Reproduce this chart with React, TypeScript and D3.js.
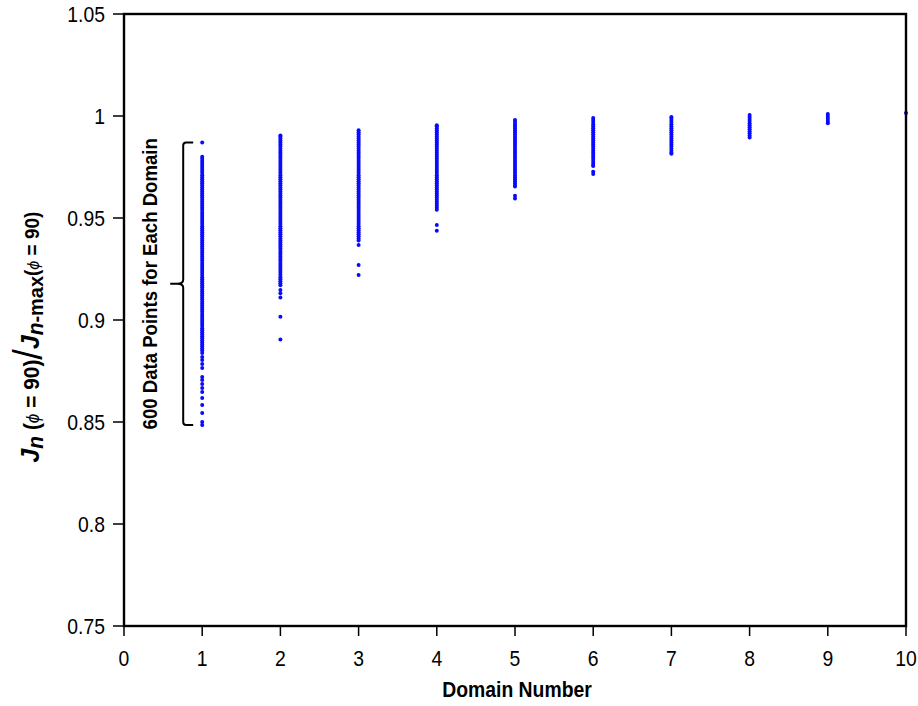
import React from "react";
import * as d3 from "d3";

const domains = [1, 2, 3, 4, 5, 6, 7, 8, 9, 10];
const xTicks = [0, 1, 2, 3, 4, 5, 6, 7, 8, 9, 10];
const yTicks = [0.75, 0.8, 0.85, 0.9, 0.95, 1, 1.05];
const yTickLabels = ["0.75", "0.8", "0.85", "0.9", "0.95", "1", "1.05"];

const domain1 = [
  0.987,
  0.98, 0.979, 0.978, 0.977, 0.976, 0.975, 0.974, 0.973, 0.972, 0.971,
  0.97, 0.969, 0.968, 0.967, 0.966, 0.965, 0.964, 0.963, 0.962, 0.961,
  0.96, 0.959, 0.958, 0.957, 0.956, 0.955, 0.954, 0.953, 0.952, 0.951,
  0.95, 0.949, 0.948, 0.947, 0.946, 0.945, 0.944, 0.943, 0.942, 0.941,
  0.94, 0.939, 0.938, 0.937, 0.936, 0.935, 0.934, 0.933, 0.932, 0.931,
  0.93, 0.929, 0.928, 0.927, 0.926, 0.925, 0.924, 0.923, 0.922, 0.921,
  0.92, 0.919, 0.918, 0.917, 0.916, 0.915, 0.914, 0.913, 0.912, 0.911,
  0.91, 0.909, 0.908, 0.907, 0.906, 0.905, 0.904, 0.903, 0.902, 0.901,
  0.9, 0.899, 0.898, 0.897, 0.896, 0.895, 0.894, 0.893, 0.892, 0.891,
  0.89, 0.889, 0.888, 0.887, 0.886, 0.885,
  0.8838, 0.8819, 0.8804, 0.8784, 0.8765, 0.8721, 0.8706, 0.8686, 0.8667, 0.8647,
  0.8618, 0.8583, 0.8544, 0.85, 0.8485,
];
const domain2 = [
  0.9905, 0.99, 0.989, 0.988, 0.987, 0.986, 0.985, 0.984, 0.983, 0.982, 0.981,
  0.98, 0.979, 0.978, 0.977, 0.976, 0.975, 0.974, 0.973, 0.972, 0.971,
  0.97, 0.969, 0.968, 0.967, 0.966, 0.965, 0.964, 0.963, 0.962, 0.961,
  0.96, 0.959, 0.958, 0.957, 0.956, 0.955, 0.954, 0.953, 0.952, 0.951,
  0.95, 0.949, 0.948, 0.947, 0.946, 0.945, 0.944, 0.943, 0.942, 0.941,
  0.94, 0.939, 0.938, 0.937, 0.936, 0.935, 0.934, 0.933, 0.932, 0.931,
  0.93, 0.929, 0.928, 0.927, 0.926, 0.925, 0.924, 0.923, 0.922, 0.921,
  0.92, 0.919, 0.918, 0.917,
  0.9147, 0.9131, 0.911, 0.9016, 0.8905,
];
const domain3 = [
  0.993, 0.992, 0.991,
  0.99, 0.989, 0.988, 0.987, 0.986, 0.985, 0.984, 0.983, 0.982, 0.981,
  0.98, 0.979, 0.978, 0.977, 0.976, 0.975, 0.974, 0.973, 0.972, 0.971,
  0.97, 0.969, 0.968, 0.967, 0.966, 0.965, 0.964, 0.963, 0.962, 0.961,
  0.96, 0.959, 0.958, 0.957, 0.956, 0.955, 0.954, 0.953, 0.952, 0.951,
  0.95, 0.949, 0.948, 0.947, 0.946, 0.945, 0.944, 0.943, 0.942, 0.941,
  0.94, 0.939,
  0.9368, 0.927, 0.9221,
];
const domain4 = [
  0.9955, 0.995, 0.994, 0.993, 0.992, 0.991,
  0.99, 0.989, 0.988, 0.987, 0.986, 0.985, 0.984, 0.983, 0.982, 0.981,
  0.98, 0.979, 0.978, 0.977, 0.976, 0.975, 0.974, 0.973, 0.972, 0.971,
  0.97, 0.969, 0.968, 0.967, 0.966, 0.965, 0.964, 0.963, 0.962, 0.961,
  0.96, 0.959, 0.958, 0.957, 0.956, 0.955, 0.954,
  0.9466, 0.9438,
];
const domain5 = [
  0.998, 0.997, 0.996, 0.995, 0.994, 0.993, 0.992, 0.991,
  0.99, 0.989, 0.988, 0.987, 0.986, 0.985, 0.984, 0.983, 0.982, 0.981,
  0.98, 0.979, 0.978, 0.977, 0.976, 0.975, 0.974, 0.973, 0.972, 0.971,
  0.97, 0.969, 0.968, 0.967, 0.966, 0.9655,
  0.9609, 0.9596,
];
const domain6 = [
  0.999, 0.998, 0.997, 0.996, 0.995, 0.994, 0.993, 0.992, 0.991,
  0.99, 0.989, 0.988, 0.987, 0.986, 0.985, 0.984, 0.983, 0.982, 0.981,
  0.98, 0.979, 0.978, 0.977, 0.976, 0.9755,
  0.9727, 0.9716,
];
const domain7 = [
  0.9995, 0.999, 0.998, 0.997, 0.996, 0.995, 0.994, 0.993, 0.992, 0.991,
  0.99, 0.989, 0.988, 0.987, 0.986, 0.985, 0.984, 0.983, 0.982, 0.9815,
];
const domain8 = [1.0005, 0.9995, 0.9985, 0.9975, 0.9965, 0.9955, 0.9945, 0.9935, 0.9925, 0.9915, 0.9905, 0.9895];
const domain9 = [1.001, 1.0, 0.999, 0.998, 0.997, 0.9965];
const domain10 = [1.0015];

const seriesValues = [domain1, domain2, domain3, domain4, domain5, domain6, domain7, domain8, domain9, domain10];

const W = 918;
const H = 706;
const left = 124;
const right = 906;
const top = 14;
const bottom = 626;

const FONT = "'Liberation Sans', Arial, sans-serif";
const NARROW = 0.88;

export default function App() {
  const x = d3.scaleLinear().domain([0, 10]).range([left, right]);
  const y = d3.scaleLinear().domain([0.75, 1.05]).range([bottom, top]);

  const points: { d: number; v: number }[] = [];
  seriesValues.forEach((vals, i) => vals.forEach((v) => points.push({ d: domains[i], v })));

  const bTop = y(d3.max(domain1) as number);
  const bBot = y(d3.min(domain1) as number);
  const bMid = (bTop + bBot) / 2;
  const bx = x(1) - 19;
  const brace = `M ${bx + 10} ${bTop} L ${bx + 3} ${bTop} Q ${bx} ${bTop} ${bx} ${bTop + 3} L ${bx} ${bMid - 4} Q ${bx} ${bMid} ${bx - 6} ${bMid} L ${bx - 13} ${bMid} M ${bx - 6} ${bMid} Q ${bx} ${bMid} ${bx} ${bMid + 4} L ${bx} ${bBot - 3} Q ${bx} ${bBot} ${bx + 3} ${bBot} L ${bx + 10} ${bBot}`;

  return (
    <svg width={W} height={H} style={{ display: "block", position: "absolute", left: 0, top: 0 }}>
      <rect width={W} height={H} fill="#fff" />
      {points.map((p, i) => (
        <circle key={i} cx={x(p.d)} cy={y(p.v)} r={2.0} fill="#0a0aff" />
      ))}
      <rect x={left} y={top} width={right - left} height={bottom - top} fill="none" stroke="#000" strokeWidth={2.4} />
      {yTicks.map((t, i) => (
        <g key={t}>
          <line x1={left - 11} x2={left} y1={y(t)} y2={y(t)} stroke="#000" strokeWidth={1.5} />
          <text transform={`translate(${left - 19}, ${y(t)}) scale(${NARROW}, 1)`} dy="0.36em" textAnchor="end" fontFamily={FONT} fontSize={22} fill="#000">
            {yTickLabels[i]}
          </text>
        </g>
      ))}
      {xTicks.map((t) => (
        <g key={t}>
          <line x1={x(t)} x2={x(t)} y1={bottom} y2={bottom + 10} stroke="#000" strokeWidth={1.5} />
          <text transform={`translate(${x(t)}, 666) scale(${NARROW}, 1)`} textAnchor="middle" fontFamily={FONT} fontSize={22} fill="#000">
            {t}
          </text>
        </g>
      ))}
      <text transform={`translate(${(left + right) / 2 + 2}, 697) scale(${NARROW}, 1)`} textAnchor="middle" fontFamily={FONT} fontSize={22} fontWeight="bold" fill="#000">
        Domain Number
      </text>
      <text transform={`translate(39, 337) rotate(-90) scale(0.95, 1)`} textAnchor="middle" fontFamily={FONT} fontWeight="bold" fontSize={22} fill="#000">
        <tspan fontStyle="italic" fontSize={26}>J</tspan>
        <tspan fontStyle="italic" fontSize={22} dy={4}>n</tspan>
        <tspan dy={-4}> (</tspan>
        <tspan fontStyle="italic" fontWeight="normal" fontSize={18}>ϕ</tspan>
        <tspan> = 90)</tspan>
        <tspan fontWeight="normal" fontSize={40} dy={3}>/</tspan>
        <tspan fontStyle="italic" fontSize={26} dy={-3}>J</tspan>
        <tspan fontStyle="italic" fontSize={22} dy={4}>n</tspan>
        <tspan fontSize={21}>-max</tspan>
        <tspan dy={-4} fontSize={20}>(</tspan>
        <tspan fontStyle="italic" fontWeight="normal" fontSize={17}>ϕ</tspan>
        <tspan fontSize={20}> = 90)</tspan>
      </text>
      <path d={brace} fill="none" stroke="#000" strokeWidth={2} />
      <text transform={`translate(157, ${bMid}) rotate(-90) scale(0.93, 1)`} textAnchor="middle" fontFamily={FONT} fontWeight="bold" fontSize={20} fill="#000">
        600 Data Points for Each Domain
      </text>
    </svg>
  );
}
